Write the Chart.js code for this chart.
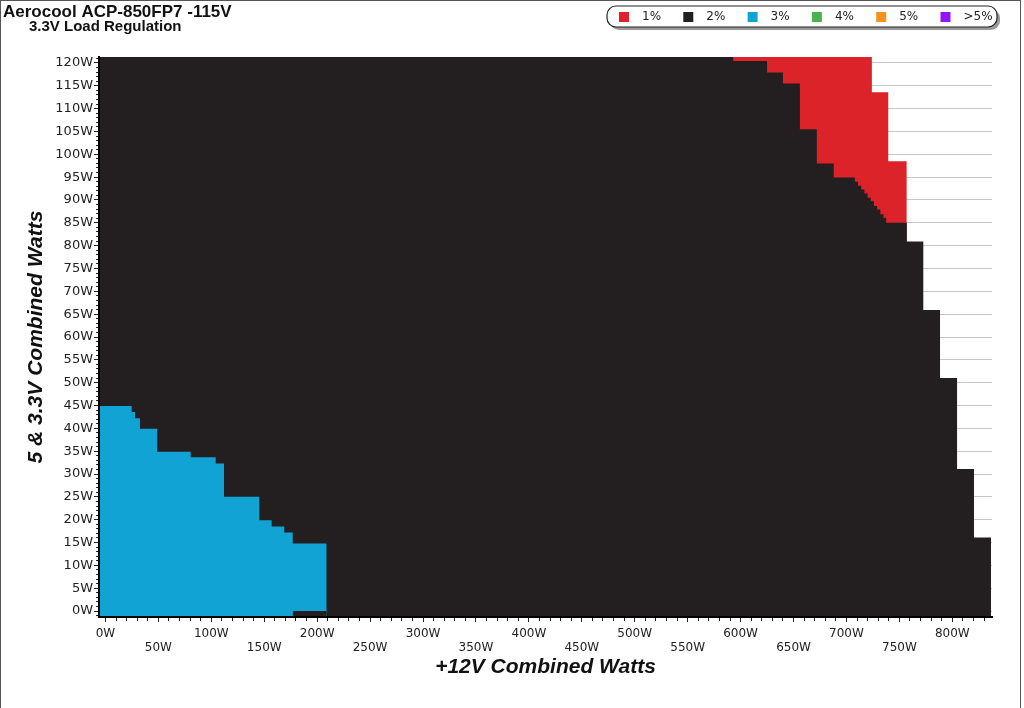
<!DOCTYPE html>
<html>

<head>
	<meta charset="utf-8">
	<title>3.3V Load Regulation</title>
	<style>
		html, body {
			margin: 0;
			padding: 0;
			background: #fff;
		}
		canvas {
			display: block;
		}
	</style>
</head>

<body>
	<canvas id="chart" width="1024" height="708"></canvas>

	<script src="https://cdn.jsdelivr.net/npm/chart.js@4.4.1/dist/chart.umd.min.js"></script>
	<script>
		'use strict'

		// +12V load (W) where a step begins; the 5V+3.3V load (W) it holds until the next step
		const blackX = [-6.1, 593, 625, 640, 656, 672, 688, 708, 711, 714, 717, 720, 723, 726, 729, 732, 735, 737.5, 757, 772.6, 788.4, 804.5, 820.5, 836.6]
		const blackY = [121.3, 120.4, 117.9, 115.5, 105.5, 98.0, 94.9, 94.0, 93.1, 92.3, 91.4, 90.5, 89.7, 88.7, 87.9, 86.9, 86.1, 85.0, 80.9, 65.9, 51.0, 31.1, 16.1, 16.1]

		const redX = [580, 724, 739.5, 757]
		const redY = [121.3, 113.6, 98.5, 98.5]

		const cyanX = [-6.1, 24.8, 27.9, 32.6, 48.9, 80.5, 104.1, 112, 145.3, 157, 168.9, 176.9, 209]
		const cyanY = [44.9, 43.6, 42.2, 39.9, 34.9, 33.7, 32.3, 25.0, 19.9, 18.5, 17.2, 14.8, 14.8]

		// strip of 2% under the 3% block at the lowest minor-rail load
		const floorX = [176.9, 209]
		const floorY = [0, 0]

		const legendLabels = ['1%', '2%', '3%', '4%', '5%', '>5%']
		const legendColors = ['#dc2329', '#231f20', '#10a3d3', '#4cb24c', '#f5921e', '#9415f3']

		const red = legendColors[0]
		const black = legendColors[1]
		const cyan = legendColors[2]

		function area (label, xs, ys, color) {
			return {
				label,
				data: xs.map((x, i) => ({ x, y: ys[i] })),
				stepped: true,
				fill: 'start',
				backgroundColor: color,
				borderColor: color,
				borderWidth: 0,
				pointRadius: 0
			}
		}

		const tickFont = { family: '"DejaVu Sans", Verdana, sans-serif', size: 12, lineHeight: 1.15 }
		const titleFont = { family: '"Liberation Sans", Arial, sans-serif', size: 21, weight: 'bold', style: 'italic' }

		// title, legend box and frame are drawn straight onto the canvas
		const decor = {
			id: 'decor',
			afterDraw (chart) {
				const ctx = chart.ctx
				ctx.save()

				ctx.strokeStyle = '#555'
				ctx.lineWidth = 1
				ctx.strokeRect(0.5, 0.5, 1020, 720)

				ctx.fillStyle = '#111'
				ctx.textBaseline = 'alphabetic'
				ctx.textAlign = 'left'
				ctx.font = 'bold 17px "Liberation Sans", Arial, sans-serif'
				ctx.fillText('Aerocool ACP-850FP7 -115V', 3, 17)
				ctx.font = 'bold 15px "Liberation Sans", Arial, sans-serif'
				ctx.fillText('3.3V Load Regulation', 29, 31)

				// legend box with a drop shadow
				const bx = 607, by = 6, bw = 390, bh = 21
				ctx.fillStyle = '#9a9a9a'
				ctx.beginPath()
				ctx.roundRect(bx + 3, by + 3, bw, bh, 9)
				ctx.fill()
				ctx.fillStyle = '#fff'
				ctx.strokeStyle = '#222'
				ctx.lineWidth = 1.2
				ctx.beginPath()
				ctx.roundRect(bx, by, bw, bh, 9)
				ctx.fill()
				ctx.stroke()

				ctx.font = '12px "DejaVu Sans", Verdana, sans-serif'
				ctx.textBaseline = 'middle'
				legendLabels.forEach((txt, i) => {
					const x = 619 + i * 64.3
					ctx.fillStyle = legendColors[i]
					ctx.fillRect(x, 12, 10, 10)
					ctx.fillStyle = '#222'
					ctx.fillText(txt, x + 23, 17)
				})

				ctx.restore()
			}
		}

		const config = {
			type: 'line',
			data: {
				datasets: [
					area('2%', floorX, floorY, black),
					area('3%', cyanX, cyanY, cyan),
					area('2%', blackX, blackY, black),
					area('1%', redX, redY, red)
				]
			},
			options: {
				responsive: false,
				devicePixelRatio: 1,
				animation: false,
				events: [],
				layout: {
					padding: { top: 57, right: 32, left: 0, bottom: 0 }
				},
				plugins: {
					legend: { display: false },
					tooltip: { enabled: false }
				},
				scales: {
					x: {
						type: 'linear',
						min: -6.1,
						max: 837.5,
						afterFit: scale => { scale.height = 91 },
						border: { color: '#000', width: 2, z: 1 },
						grid: {
							drawOnChartArea: false,
							tickLength: 5,
							tickColor: '#222',
							tickBorderDash: c => c.tick && c.tick.value % 50 === 0 ? [] : [3, 20]
						},
						ticks: {
							stepSize: 10,
							autoSkip: false,
							maxRotation: 0,
							includeBounds: false,
							padding: 5,
							color: '#222',
							font: tickFont,
							callback: v => v % 100 === 0 ? [v + 'W', ''] : v % 50 === 0 ? ['', v + 'W'] : ''
						},
						title: {
							display: true,
							text: '+12V Combined Watts',
							color: '#111',
							font: titleFont,
							padding: { top: 0, bottom: 28 }
						}
					},
					y: {
						type: 'linear',
						min: -1.3,
						max: 121.3,
						afterFit: scale => { scale.width = 99 },
						border: { color: '#000', width: 2, z: 1 },
						grid: {
							color: c => c.tick && c.tick.value % 5 === 0 ? '#c6c6c6' : 'rgba(0,0,0,0)',
							tickLength: 5,
							tickColor: '#222',
							tickBorderDash: c => c.tick && c.tick.value % 5 === 0 ? [] : [0, 2, 2, 20]
						},
						ticks: {
							stepSize: 1,
							autoSkip: false,
							includeBounds: false,
							padding: 1,
							color: '#222',
							font: { family: tickFont.family, size: 13 },
							callback: v => v % 5 === 0 ? v + 'W' : ''
						},
						title: {
							display: true,
							text: '5 & 3.3V Combined Watts',
							color: '#111',
							font: titleFont,
							padding: { top: 24, bottom: 0 }
						}
					}
				}
			},
			plugins: [decor]
		}

		new Chart(document.getElementById('chart'), config)
	</script>
</body>

</html>
